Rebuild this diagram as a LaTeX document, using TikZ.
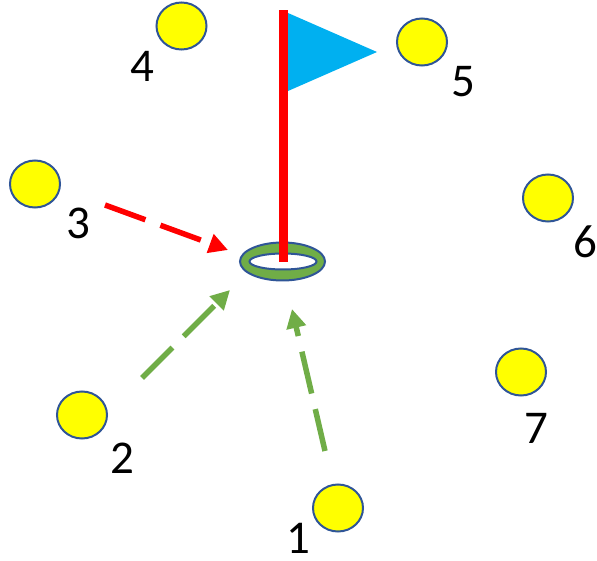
\documentclass[tikz,border=0pt]{standalone}
\usepackage{fontspec}
\setmainfont{Carlito}
\usetikzlibrary{arrows.meta,shapes.geometric}
\definecolor{ballfill}{HTML}{FFFF00}
\definecolor{balledge}{HTML}{2F5597}
\definecolor{ringgreen}{HTML}{70AD47}
\definecolor{flagblue}{HTML}{00B0F0}
\definecolor{polered}{HTML}{FF0000}
\tikzset{
  ball/.style={ellipse, fill=ballfill, draw=balledge, line width=2pt, minimum width=50pt, minimum height=47pt, inner sep=0pt},
  lbl/.style={inner sep=0pt, font=\fontsize{47}{47}\selectfont},
  putt/.style={line width=5.5pt, dash pattern=on 43pt off 16pt, -{Triangle[length=19pt,width=19pt]}},
}
\begin{document}
\begin{tikzpicture}[x=1pt,y=-1pt]
\useasboundingbox (0,0) rectangle (597,561);
% balls
\node[ball] (b4) at (181.5,26) {};
\node[ball] (b5) at (422,42) {};
\node[ball] (b3) at (35,184) {};
\node[ball] (b6) at (548,198) {};
\node[ball] (b7) at (521,372) {};
\node[ball] (b2) at (82,415) {};
\node[ball] (b1) at (338,508) {};
% labels
\node[lbl] (l4) at (142.5,66) {4};
\node[lbl] (l5) at (463,82) {5};
\node[lbl] (l3) at (78,223) {3};
\node[lbl] (l6) at (585,242) {6};
\node[lbl] (l7) at (536,428) {7};
\node[lbl] (l2) at (122,458) {2};
\node[lbl] (l1) at (298,538) {1};
% hole
\node[ellipse, fill=ringgreen, draw=balledge, line width=2pt, minimum width=85pt, minimum height=38pt, inner sep=0pt] (hole) at (282.5,261.5) {};
\node[ellipse, fill=white, draw=balledge, line width=2pt, minimum width=67pt, minimum height=16pt, inner sep=0pt] (cup) at (283,261.5) {};
% flag
\fill[flagblue] (288,13) -- (377,52) -- (288,91) -- cycle;
\fill[polered] (279,10) rectangle (288,262);
% putts
\coordinate (s3) at (105,205);
\coordinate (e3) at (228,250);
\coordinate (s2) at (142,378);
\coordinate (e2) at (230,290);
\coordinate (s1) at (325,451);
\coordinate (e1) at (292,309);
\draw[putt, draw=polered] (s3) -- (e3);
\draw[putt, draw=ringgreen] (s2) -- (e2);
\draw[putt, draw=ringgreen] (s1) -- (e1);
\end{tikzpicture}
\end{document}
